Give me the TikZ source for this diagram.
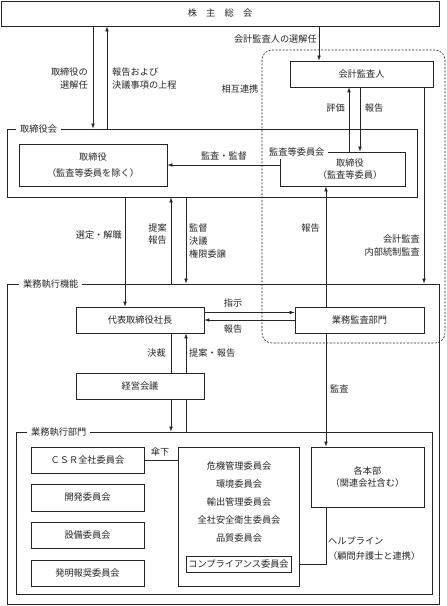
\documentclass[tikz,border=0pt]{standalone}
\usepackage{fontspec}
\newfontfamily\jpfont{Noto Sans CJK JP}
\usetikzlibrary{arrows.meta,backgrounds}
\begin{document}
\begin{tikzpicture}[x=1pt,y=-1pt,
  font=\jpfont\fontsize{9.2}{12.8}\selectfont,
  every node/.style={inner sep=0pt},
  box/.style={draw=black!85, line width=0.75pt, fill=white, align=center, text=black!85},
  grp/.style={draw=black!85, line width=0.75pt},
  grplabel/.style={fill=white, inner xsep=4pt, inner ysep=3pt, anchor=west, text=black!85},
  lbl/.style={align=center, text=black!85},
  conn/.style={draw=black!85, line width=0.6pt},
  arr/.style={conn, -{Latex[length=5pt,width=3.6pt]}},
  dashbox/.style={draw=black!85, line width=0.6pt, dash pattern=on 2pt off 1.5pt, rounded corners=10pt},
]
\useasboundingbox (0,0) rectangle (447,606);

% column / row helpers
\coordinate (c107) at (107,0);
\coordinate (c319) at (319,0);
\coordinate (c349) at (349,0);
\coordinate (c360) at (360,0);
\coordinate (c424) at (424,0);
\coordinate (c125) at (125,0);
\coordinate (c171) at (171,0);
\coordinate (c186) at (186,0);
\coordinate (c326) at (326,0);
\coordinate (y312) at (0,312.5);

% top
\node[box, minimum width=438pt, minimum height=25pt] (kabu) at (220,13.5) {株　主　総　会};
\node[box, minimum width=143pt, minimum height=26pt] (kaikei) at (361.5,74) {会計監査人};

% board
\node[grp, minimum width=410pt, minimum height=68pt] (grp1) at (212,163) {};
\node[box, minimum width=148pt, minimum height=42pt] (tori1) at (93,165) {取締役\\[3pt]（監査等委員を除く）};
\node[grp, minimum width=125pt, minimum height=34pt] (kansa) at (342.5,169) {};
\node[lbl] (kansatxt) at (350,169) {取締役\\（監査等委員）};
\node[grplabel] (kansalbl) at (265,152) {監査等委員会};
\node[grplabel] (grp1lbl) at (16,129) {取締役会};

% execution
\node[grp, minimum width=432pt, minimum height=320pt] (grp2) at (223,444) {};
\node[grplabel] (grp2lbl) at (19,284) {業務執行機能};
\node[box, minimum width=128pt, minimum height=26pt] (daihyo) at (140,320) {代表取締役社長};
\node[box, minimum width=129pt, minimum height=26pt] (gyomukansa) at (359.5,320) {業務監査部門};
\node[box, minimum width=128pt, minimum height=26pt] (keiei) at (140,386) {経営会議};

\node[grp, minimum width=416pt, minimum height=162pt] (grp3) at (224,513) {};
\node[grplabel] (grp3lbl) at (27,432) {業務執行部門};
\node[box, minimum width=113pt, minimum height=26pt] (csr) at (87.5,460) {ＣＳＲ全社委員会};
\node[box, minimum width=113pt, minimum height=27pt] (kaihatsu) at (87.5,497.5) {開発委員会};
\node[box, minimum width=113pt, minimum height=26pt] (setsubi) at (87.5,535) {設備委員会};
\node[box, minimum width=113pt, minimum height=26pt] (hatsumei) at (87.5,573) {発明報奨委員会};
\node[box, minimum width=121pt, minimum height=139pt] (middle) at (238.5,516.5) {};
\node[lbl] (m1) at (239,466) {危機管理委員会};
\node[lbl] (m2) at (239,484) {環境委員会};
\node[lbl] (m3) at (239,502) {輸出管理委員会};
\node[lbl] (m4) at (239,520) {全社安全衛生委員会};
\node[lbl] (m5) at (239,538) {品質委員会};
\node[box, minimum width=105pt, minimum height=16pt] (compliance) at (238.5,564) {コンプライアンス委員会};
\node[box, minimum width=113pt, minimum height=60pt] (kakuhonbu) at (367.5,477) {各本部\\（関連会社含む）};

% dashed cooperation frame
\node[dashbox, minimum width=183pt, minimum height=293pt] (renkei) at (353.5,196.5) {};

% connectors
\begin{scope}[on background layer]
\draw[arr] (kabu.south -| tori1) -- (grp1.north -| tori1);
\draw[arr] (grp1.north -| c107) -- (kabu.south -| c107);
\draw[arr] (kabu.south -| c319) -- (kaikei.north -| c319);
\draw[arr] (kansa.north -| c349) -- (kaikei.south -| c349);
\draw[arr] (kaikei.south -| c360) -- (kansa.north -| c360);
\draw[arr] (kaikei.south -| c424) -- (grp2.north -| c424);
\draw[arr] (kansa.west |- tori1) -- (tori1.east);
\draw[arr] (grp1.south -| c125) -- (daihyo.north -| c125);
\draw[arr] (grp2.north -| c171) -- (grp1.south -| c171);
\draw[arr] (grp1.south -| c186) -- (grp2.north -| c186);
\draw[arr] (gyomukansa.north -| c326) -- (kansa.south -| c326);
\draw[arr] (gyomukansa.south -| c326) -- (kakuhonbu.north -| c326);
\draw[arr] (daihyo.east |- y312) -- (gyomukansa.west |- y312);
\draw[arr] (gyomukansa.west) -- (daihyo.east);
\draw[arr] (daihyo.south -| c171) -- (grp3.north -| c171);
\draw[arr] (grp3.north -| c186) -- (daihyo.south -| c186);
\draw[conn] (csr.east) -- (middle.west |- csr);
\draw[arr] (kakuhonbu.south -| c326) |- (compliance.east);
\end{scope}

% labels
\node[lbl, anchor=east, align=right] (l1) at (88,78.5) {取締役の\\選解任};
\node[lbl, anchor=west, align=left] (l2) at (112,78.5) {報告および\\決議事項の上程};
\node[lbl, anchor=east] (l3) at (317,39.5) {会計監査人の選解任};
\node[lbl] (l4) at (240,89) {相互連携};
\node[lbl] (l5) at (335.5,108) {評価};
\node[lbl] (l6) at (374,108) {報告};
\node[lbl, anchor=east, align=right] (l7) at (420,245.5) {会計監査\\内部統制監査};
\node[lbl] (l8) at (224,156) {監査・監督};
\node[lbl, anchor=east] (l9) at (122,235) {選定・解職};
\node[lbl, anchor=east, align=right] (l10) at (167,234) {提案\\報告};
\node[lbl, anchor=west, align=left] (l11) at (189,241) {監督\\決議\\権限委譲};
\node[lbl, anchor=east] (l12) at (320,228) {報告};
\node[lbl, anchor=west] (l13) at (330,389) {監査};
\node[lbl] (l14) at (233,303) {指示};
\node[lbl] (l15) at (233,329) {報告};
\node[lbl, anchor=east] (l16) at (166,353) {決裁};
\node[lbl, anchor=west] (l17) at (189,353) {提案・報告};
\node[lbl] (l18) at (160,452) {傘下};
\node[lbl, anchor=west, align=left] (l19) at (328,548.5) {ヘルプライン\\[2pt]（顧問弁護士と連携）};
\end{tikzpicture}
\end{document}
